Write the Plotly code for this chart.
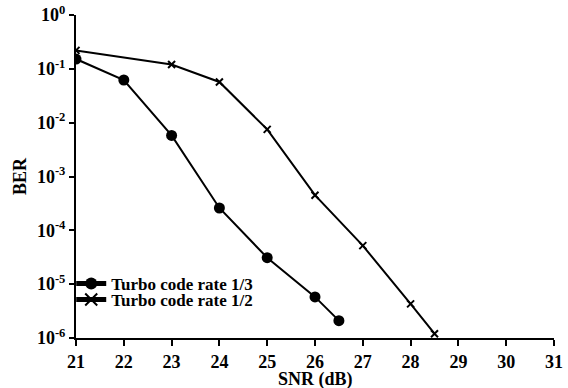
import plotly.graph_objects as go

snr_13 = [21, 22, 23, 24, 25, 26, 26.5]
ber_13 = [0.152, 0.062, 0.0058, 2.6e-4, 3.1e-5, 5.8e-6, 2.1e-6]
snr_12 = [21, 23, 24, 25, 26, 27, 28, 28.5]
ber_12 = [0.22, 0.12, 0.057, 0.0075, 4.5e-4, 5.2e-5, 4.3e-6, 1.2e-6]
name_13 = "Turbo code rate 1/3"
name_12 = "Turbo code rate 1/2"
x_title = "SNR (dB)"
y_title = "BER"
x_ticks = list(range(21, 32))
y_tickvals = [1, 1e-1, 1e-2, 1e-3, 1e-4, 1e-5, 1e-6]
y_ticktext = ["10<sup>0</sup>", "10<sup>-1</sup>", "10<sup>-2</sup>", "10<sup>-3</sup>",
              "10<sup>-4</sup>", "10<sup>-5</sup>", "10<sup>-6</sup>"]

serif = "Liberation Serif, Times New Roman, serif"
font = dict(family=serif, size=16, color="black")
legfont = dict(size=17, family=serif, color="black", weight="bold")

fig = go.Figure()
fig.add_trace(go.Scatter(x=snr_13, y=ber_13, name=name_13, mode="lines+markers",
                         legend="legend",
                         line=dict(color="black", width=2),
                         marker=dict(symbol="circle", size=11, color="black")))
fig.add_trace(go.Scatter(x=snr_12, y=ber_12, name=name_12, mode="lines+markers",
                         legend="legend2",
                         line=dict(color="black", width=2),
                         marker=dict(symbol="x-thin", size=7, color="black",
                                     line=dict(color="black", width=2))))

fig.update_layout(
    width=568, height=388,
    margin=dict(l=76, r=14, t=15, b=50, autoexpand=False),
    plot_bgcolor="white", paper_bgcolor="white",
    font=font,
    showlegend=True,
    legend=dict(x=-0.01, y=0.167, xanchor="left", yanchor="middle",
                bgcolor="rgba(0,0,0,0)", font=legfont, itemwidth=30, itemsizing="constant"),
    legend2=dict(x=-0.01, y=0.118, xanchor="left", yanchor="middle",
                 bgcolor="rgba(0,0,0,0)", font=legfont, itemwidth=30, itemsizing="constant"),
)
fig.add_annotation(text=x_title, xref="paper", yref="paper", x=0.5, y=-0.127,
                   xanchor="center", yanchor="middle", showarrow=False,
                   font=dict(size=18, family=serif, weight="bold", color="black"))
fig.update_xaxes(range=[21, 31], tickvals=x_ticks, ticks="outside", ticklen=6, tickwidth=2,
                 tickcolor="black", automargin=False,
                 showline=True, linecolor="black", linewidth=2, showgrid=False, zeroline=False,
                 tickfont=dict(size=18, family=serif, weight="bold"))
fig.update_yaxes(type="log", range=[-6, 0], tickvals=y_tickvals, ticktext=y_ticktext,
                 ticks="outside", ticklen=5, tickwidth=2, tickcolor="black", automargin=True,
                 showline=True, linecolor="black", linewidth=2, showgrid=False, zeroline=False,
                 title=dict(text=y_title, standoff=6, font=dict(size=18, family=serif, weight="bold")),
                 tickfont=dict(size=18, family=serif, weight="bold"))

fig.write_html("out.html")
